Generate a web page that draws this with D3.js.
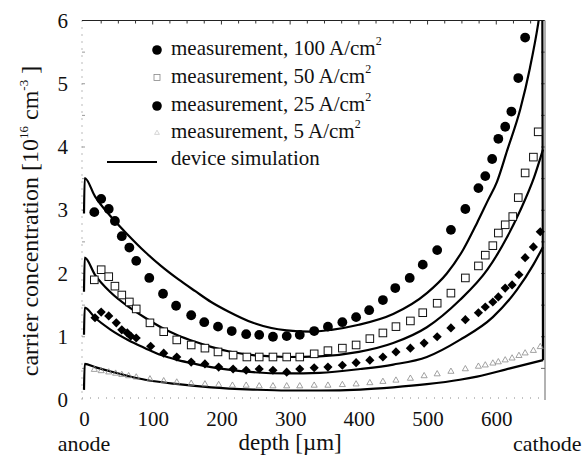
<!DOCTYPE html>
<html>
<head>
<meta charset="utf-8">
<script src="https://cdn.jsdelivr.net/npm/d3@7"></script>
<style>
  html, body { margin: 0; padding: 0; background: #fff; }
  svg { display: block; }
  text { font-family: "Liberation Serif", "Times New Roman", serif; fill: #111; }
</style>
</head>
<body>
<svg id="chart" width="584" height="456"></svg>
<script>
// ---------- data (depth in µm, concentration in 1e16 cm^-3) ----------
const xTicks = [0, 100, 200, 300, 400, 500, 600];
const yTicks = [0, 1, 2, 3, 4, 5, 6];

const meas100 = [[15,2.97],[25,3.18],[36,3.02],[45,2.83],[55,2.59],[66,2.41],[76,2.20],[95,1.93],[115,1.68],[134,1.49],[156,1.34],[175,1.23],[195,1.16],[215,1.09],[236,1.04],[255,1.03],[275,1.00],[295,1.01],[314,1.03],[335,1.09],[355,1.16],[376,1.23],[396,1.31],[415,1.42],[435,1.58],[453,1.77],[474,1.93],[493,2.14],[514,2.37],[534,2.69],[555,3.02],[574,3.35],[584,3.54],[594,3.81],[603,4.13],[613,4.32],[622,4.56],[632,5.09],[642,5.73]];

const meas50 = [[15,1.90],[25,2.06],[36,1.95],[45,1.80],[55,1.66],[66,1.55],[76,1.44],[96,1.22],[116,1.08],[135,0.95],[156,0.87],[176,0.82],[195,0.76],[217,0.71],[237,0.68],[255,0.68],[275,0.68],[295,0.68],[314,0.68],[335,0.73],[355,0.78],[376,0.82],[396,0.87],[416,0.97],[435,1.06],[454,1.16],[475,1.25],[493,1.38],[514,1.53],[534,1.69],[555,1.93],[574,2.12],[584,2.29],[595,2.44],[603,2.64],[613,2.77],[624,2.90],[632,3.20],[642,3.59],[654,3.84],[661,4.24]];

const meas25 = [[16,1.30],[25,1.39],[36,1.33],[47,1.22],[55,1.11],[63,1.06],[68,1.01],[76,0.98],[97,0.85],[116,0.74],[135,0.68],[156,0.60],[176,0.57],[196,0.52],[217,0.49],[236,0.47],[255,0.49],[275,0.47],[295,0.44],[314,0.49],[335,0.51],[355,0.52],[376,0.55],[396,0.59],[416,0.63],[435,0.68],[454,0.76],[475,0.82],[495,0.90],[514,1.00],[534,1.14],[555,1.27],[574,1.38],[584,1.47],[595,1.55],[603,1.63],[613,1.77],[623,1.82],[633,1.98],[642,2.25],[654,2.42],[664,2.66]];

const meas5 = [[15,0.48],[25,0.46],[36,0.44],[46,0.42],[55,0.40],[65,0.38],[76,0.36],[96,0.33],[116,0.30],[135,0.28],[156,0.26],[176,0.25],[196,0.24],[216,0.23],[236,0.23],[255,0.22],[275,0.22],[295,0.22],[314,0.22],[335,0.23],[355,0.23],[376,0.24],[396,0.25],[416,0.27],[435,0.29],[454,0.31],[475,0.34],[495,0.38],[514,0.41],[534,0.45],[555,0.49],[574,0.53],[584,0.55],[595,0.58],[603,0.60],[613,0.63],[623,0.66],[633,0.70],[642,0.74],[654,0.78],[664,0.84]];

const sim100 = [[0,2.95],[1,3.51],[16,3.22],[39,2.90],[64,2.61],[89,2.34],[112,2.12],[137,1.91],[162,1.72],[185,1.55],[210,1.40],[246,1.22],[295,1.10],[330,1.08],[360,1.11],[400,1.19],[450,1.36],[499,1.69],[528,2.00],[552,2.38],[572,2.80],[588,3.16],[601,3.45],[616,3.95],[635,4.60],[649,5.25],[661,5.95],[667,6.40],[668,0.63]];
const sim50 = [[0,1.71],[1,2.25],[16,1.98],[39,1.70],[64,1.48],[89,1.30],[112,1.15],[137,1.02],[162,0.92],[185,0.84],[210,0.77],[246,0.71],[295,0.68],[343,0.69],[400,0.76],[450,0.90],[499,1.15],[547,1.58],[587,2.06],[616,2.58],[635,3.00],[655,3.52],[668,3.96]];
const sim25 = [[0,1.03],[1,1.46],[16,1.30],[39,1.11],[64,0.95],[89,0.82],[112,0.71],[137,0.63],[162,0.57],[185,0.52],[210,0.48],[246,0.44],[295,0.42],[343,0.43],[402,0.49],[450,0.56],[499,0.68],[547,0.95],[595,1.31],[630,1.74],[654,2.14],[668,2.42]];
const sim5 = [[0,0.16],[1,0.57],[16,0.52],[39,0.45],[64,0.38],[89,0.32],[137,0.25],[185,0.20],[246,0.165],[295,0.15],[343,0.15],[402,0.165],[450,0.20],[499,0.25],[547,0.32],[572,0.37],[620,0.50],[668,0.63]];

const legendLabels = ["measurement, 100 A/cm", "measurement, 50 A/cm", "measurement, 25 A/cm", "measurement, 5 A/cm", "device simulation"];

// ---------- scales ----------
const svg = d3.select("#chart");
const x = d3.scaleLinear().domain([0, 668]).range([84, 543]);
const y = d3.scaleLinear().domain([0, 6]).range([400, 20.5]);
const x0 = x(0) - 2, x1 = x(668), yTop = y(6), yBot = y(0);

// ---------- frame ----------
svg.append("line").attr("x1", x0).attr("x2", x0).attr("y1", yTop).attr("y2", yBot)
  .attr("stroke", "#777").attr("stroke-width", 1).attr("stroke-dasharray", "1,6");
svg.append("line").attr("x1", x0).attr("x2", x1 + 2).attr("y1", yBot - 2).attr("y2", yBot - 2)
  .attr("stroke", "#888").attr("stroke-width", 1).attr("stroke-dasharray", "1,7");
svg.append("line").attr("x1", x0).attr("x2", x1 + 2).attr("y1", yTop).attr("y2", yTop)
  .attr("stroke", "#222").attr("stroke-width", 1.2);
svg.append("line").attr("x1", x1 + 2).attr("x2", x1 + 2).attr("y1", yTop).attr("y2", yBot)
  .attr("stroke", "#999").attr("stroke-width", 1.5);

// top minor ticks every 25 µm
svg.append("g").selectAll("line").data(d3.range(25, 668, 25)).join("line")
  .attr("x1", d => x(d)).attr("x2", d => x(d))
  .attr("y1", yTop).attr("y2", d => yTop + (d % 100 === 0 ? 4 : 3))
  .attr("stroke", "#333").attr("stroke-width", 1);
// right ticks every 0.5
svg.append("g").selectAll("line").data(d3.range(0.5, 6, 0.5)).join("line")
  .attr("x1", x1 + 2).attr("x2", x1 - 2)
  .attr("y1", d => y(d)).attr("y2", d => y(d))
  .attr("stroke", "#666").attr("stroke-width", 1);
// left ticks every 0.5
svg.append("g").selectAll("line").data(d3.range(0.5, 6, 0.5)).join("line")
  .attr("x1", x0).attr("x2", x0 + 3)
  .attr("y1", d => y(d)).attr("y2", d => y(d))
  .attr("stroke", "#999").attr("stroke-width", 1);

// ---------- axes ----------
const xAxis = svg.append("g").attr("transform", `translate(0,${yBot})`)
  .call(d3.axisBottom(x).tickValues(xTicks).tickSize(0).tickPadding(11).tickFormat(d3.format("d")));
xAxis.select(".domain").remove();
xAxis.selectAll("text").attr("font-size", 21).attr("font-family", "Liberation Serif").attr("fill", "#111");

const yAxis = svg.append("g").attr("transform", `translate(${x0},0)`)
  .call(d3.axisLeft(y).tickValues(yTicks).tickSize(0).tickPadding(14).tickFormat(d3.format("d")));
yAxis.select(".domain").remove();
yAxis.selectAll("text").attr("font-size", 21).attr("font-family", "Liberation Serif").attr("fill", "#111");

// axis titles
svg.append("text").attr("x", x(300)).attr("y", 450).attr("text-anchor", "middle")
  .attr("font-size", 23).text("depth [µm]");
svg.append("text").attr("x", x(0)).attr("y", 451).attr("text-anchor", "middle")
  .attr("font-size", 22).text("anode");
svg.append("text").attr("x", 513).attr("y", 451).attr("text-anchor", "start")
  .attr("font-size", 22).text("cathode");

const yl = svg.append("text").attr("transform", "translate(38,221) rotate(-90)")
  .attr("text-anchor", "middle").attr("font-size", 24);
yl.append("tspan").text("carrier concentration [10");
yl.append("tspan").attr("dy", -10).attr("font-size", 13).text("16");
yl.append("tspan").attr("dy", 10).text(" cm");
yl.append("tspan").attr("dy", -10).attr("font-size", 13).text("-3");
yl.append("tspan").attr("dy", 10).text(" ]");

// ---------- plot content ----------
svg.append("defs").append("clipPath").attr("id", "plotclip")
  .append("rect").attr("x", x0 - 1).attr("y", yTop).attr("width", x1 - x0 + 4).attr("height", yBot - yTop);
const plot = svg.append("g").attr("clip-path", "url(#plotclip)");

const line = d3.line().x(d => x(d[0])).y(d => y(d[1])).curve(d3.curveMonotoneX);
[sim100, sim50, sim25, sim5].forEach(s => {
  plot.append("path").datum(s).attr("d", line)
    .attr("fill", "none").attr("stroke", "#000").attr("stroke-width", 2.2);
});

// triangles (5 A/cm2)
const tri = d3.symbol().type(d3.symbolTriangle).size(16);
plot.append("g").selectAll("path").data(meas5).join("path")
  .attr("d", tri).attr("transform", d => `translate(${x(d[0])},${y(d[1])})`)
  .attr("fill", "none").attr("stroke", "#8a8a8a").attr("stroke-width", 0.8);

// diamonds (25 A/cm2): squares rotated 45°
const dia = d3.symbol().type(d3.symbolSquare).size(42);
plot.append("g").selectAll("path").data(meas25).join("path")
  .attr("d", dia).attr("transform", d => `translate(${x(d[0])},${y(d[1])}) rotate(45)`)
  .attr("fill", "#000");

// squares (50 A/cm2)
plot.append("g").selectAll("rect").data(meas50).join("rect")
  .attr("x", d => x(d[0]) - 3.8).attr("y", d => y(d[1]) - 3.8)
  .attr("width", 7.6).attr("height", 7.6)
  .attr("fill", "#fff").attr("stroke", "#111").attr("stroke-width", 1);

// circles (100 A/cm2)
plot.append("g").selectAll("circle").data(meas100).join("circle")
  .attr("cx", d => x(d[0])).attr("cy", d => y(d[1])).attr("r", 4.9)
  .attr("fill", "#000");

// ---------- legend ----------
const lg = svg.append("g");
const rowY = [55, 83, 111, 138, 165];
legendLabels.forEach((lab, i) => {
  const t = lg.append("text").attr("x", 171).attr("y", rowY[i]).attr("font-size", 21);
  t.append("tspan").text(lab);
  if (i < 4) t.append("tspan").attr("dy", -10).attr("font-size", 12).text("2");
});
lg.append("circle").attr("cx", 157).attr("cy", 50).attr("r", 4.8).attr("fill", "#000");
lg.append("rect").attr("x", 154).attr("y", 74.5).attr("width", 6).attr("height", 6)
  .attr("fill", "#fff").attr("stroke", "#888").attr("stroke-width", 0.8);
lg.append("circle").attr("cx", 157).attr("cy", 106).attr("r", 4.8).attr("fill", "#000");
lg.append("path").attr("d", d3.symbol().type(d3.symbolTriangle).size(10))
  .attr("transform", "translate(157,133)")
  .attr("fill", "none").attr("stroke", "#bbb").attr("stroke-width", 0.6);
lg.append("line").attr("x1", 107).attr("x2", 157).attr("y1", 162).attr("y2", 162)
  .attr("stroke", "#000").attr("stroke-width", 2);
</script>
</body>
</html>
